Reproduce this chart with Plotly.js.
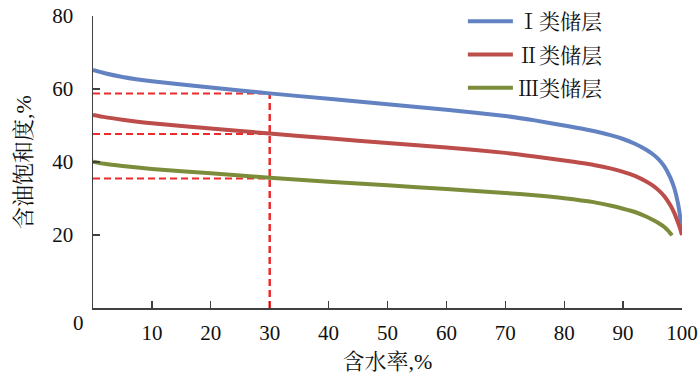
<!DOCTYPE html>
<html>
<head>
<meta charset="utf-8">
<script src="https://cdn.plot.ly/plotly-3.0.1.min.js"></script>
<style>html,body{margin:0;padding:0;background:#fff;}#chart{width:700px;height:379px;}</style>
</head>
<body>
<div id="chart"></div>
<script>
// Water cut (%) sample points
const waterCut = [0, 2, 5, 10, 20, 30, 40, 50, 60, 70, 75, 80, 85, 88, 90, 92, 94, 95, 96, 97, 98, 98.7, 99.3, 99.7, 100];
// Oil saturation (%) for each reservoir class
const classI   = [65.2, 64.3, 63.3, 62.1, 60.4, 58.8, 57.3, 55.8, 54.3, 52.6, 51.4, 50.0, 48.5, 47.3, 46.3, 45.0, 43.3, 42.2, 40.8, 38.8, 35.8, 32.8, 28.8, 24.8, 20.0];
const classII  = [52.9, 52.3, 51.6, 50.6, 49.2, 47.8, 46.5, 45.2, 44.0, 42.5, 41.5, 40.4, 39.2, 38.2, 37.3, 36.2, 34.6, 33.6, 32.3, 30.6, 28.2, 26.0, 23.5, 21.7, 20.0];
const waterCutIII = [0, 2, 5, 10, 20, 30, 40, 50, 60, 70, 75, 80, 85, 88, 90, 92, 94, 95, 96, 97, 97.7, 98.3];
const classIII = [40.1, 39.5, 38.9, 38.1, 36.9, 35.7, 34.6, 33.6, 32.6, 31.5, 30.9, 30.1, 29.0, 28.0, 27.2, 26.3, 25.0, 24.2, 23.3, 22.2, 21.1, 19.9];
// Reading guides at 30% water cut
const guideX = 30;
const guideY = [58.8, 47.7, 35.5];
const seriesNames = ["Ⅰ类储层", "Ⅱ类储层", "Ⅲ类储层"];
const xTicks = [0, 10, 20, 30, 40, 50, 60, 70, 80, 90, 100];
const yTicks = [0, 20, 40, 60, 80];

const FONT = "'Times New Roman', 'Liberation Serif', 'Noto Serif CJK SC', 'Noto Sans CJK SC', serif";
const colors = ["#6282C2", "#BC4D4A", "#7B8D3B"];
const guideColor = "#EE2A2A";

const traces = [];
guideY.forEach(v => {
  traces.push({x: [0, guideX], y: [v, v], mode: "lines", showlegend: false, hoverinfo: "skip",
    line: {color: guideColor, width: 2, dash: "7px,4px"}});
});
traces.push({x: [guideX, guideX], y: [0, guideY[0]], mode: "lines", showlegend: false, hoverinfo: "skip",
  line: {color: guideColor, width: 2.5, dash: "7px,4px"}});

traces.push({x: waterCut, y: classI, name: seriesNames[0], mode: "lines", legendgroup: "a",
  line: {color: colors[0], width: 4, shape: "spline", smoothing: 0.5}});
traces.push({x: waterCut, y: classII, name: seriesNames[1], mode: "lines", legendgroup: "b",
  line: {color: colors[1], width: 4, shape: "spline", smoothing: 0.5}});
traces.push({x: waterCutIII, y: classIII, name: seriesNames[2], mode: "lines", legendgroup: "c",
  line: {color: colors[2], width: 4, shape: "spline", smoothing: 0.5}});

const layout = {
  width: 700, height: 379,
  margin: {l: 93, r: 18, t: 16, b: 71, autoexpand: false},
  paper_bgcolor: "#fff", plot_bgcolor: "#fff",
  font: {family: FONT, size: 21, color: "#111"},
  showlegend: true,
  legend: {x: 0.628, xanchor: "left", y: 1.051, yanchor: "top", bgcolor: "rgba(0,0,0,0)",
    font: {family: FONT, size: 21, color: "#111"}, traceorder: "grouped", tracegroupgap: 3, itemwidth: 45},
  xaxis: {range: [0, 100], tickvals: xTicks, ticktext: xTicks.map(v => v === 0 ? "" : String(v)),
    ticks: "inside", ticklen: 7, tickcolor: "#404040", tickwidth: 1.3,
    showline: true, linecolor: "#404040", linewidth: 1.5, showgrid: false, zeroline: false,
    tickfont: {family: FONT, size: 21}, ticklabelstandoff: 5,
    title: {text: "含水率,%", font: {family: FONT, size: 22}, standoff: 10}},
  yaxis: {range: [0, 80], tickvals: yTicks, ticktext: yTicks.map(v => v === 0 ? "" : String(v)),
    ticks: "inside", ticklen: 7, tickcolor: "#404040", tickwidth: 1.3,
    showline: true, linecolor: "#404040", linewidth: 1.5, showgrid: false, zeroline: false,
    tickfont: {family: FONT, size: 21}, ticklabelstandoff: 14,
    title: {text: "含油饱和度,%", font: {family: FONT, size: 22}, standoff: 14}},
  annotations: [{text: "0", xref: "paper", yref: "paper", x: -0.025, y: -0.05, xanchor: "center", yanchor: "middle",
    showarrow: false, font: {family: FONT, size: 21, color: "#111"}}]
};

Plotly.newPlot("chart", traces, layout, {staticPlot: true, displayModeBar: false});
</script>
</body>
</html>
